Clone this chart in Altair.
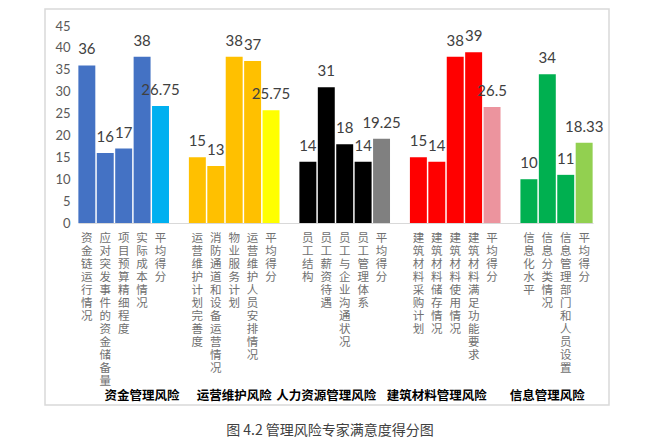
import altair as alt
import pandas as pd

group_names = ["资金管理风险", "运营维护风险", "人力资源管理风险", "建筑材料管理风险", "信息管理风险"]
group_items = [
    ["资金链运行情况", "应对突发事件的资金储备量", "项目预算精细程度", "实际成本情况", "平均得分"],
    ["运营维护计划完善度", "消防通道和设备运营情况", "物业服务计划", "运营维护人员安排情况", "平均得分"],
    ["员工结构", "员工薪资待遇", "员工与企业沟通状况", "员工管理体系", "平均得分"],
    ["建筑材料采购计划", "建筑材料储存情况", "建筑材料使用情况", "建筑材料满足功能要求", "平均得分"],
    ["信息化水平", "信息分类情况", "信息管理部门和人员设置", "平均得分"],
]
group_values = [
    [36, 16, 17, 38, 26.75],
    [15, 13, 38, 37, 25.75],
    [14, 31, 18, 14, 19.25],
    [15, 14, 38, 39, 26.5],
    [10, 34, 11, 18.33],
]
bar_colors = ["#4472C4", "#FFC000", "#000000", "#FF0000", "#00B050"]
avg_colors = ["#00B0F0", "#FFFF00", "#808080", "#EC949E", "#92D050"]
# which bar of each group the group name is centred under
label_anchor = [3, 2, 1, 1, 1]
y_ticks = [0, 5, 10, 15, 20, 25, 30, 35, 40, 45]

rows = []
domain = []
group_rows = []
for gi, (items, vals) in enumerate(zip(group_items, group_values)):
    for j, (name, v) in enumerate(zip(items, vals)):
        key = f"{gi}|{name}"
        color = avg_colors[gi] if name == "平均得分" else bar_colors[gi]
        rows.append({"key": key, "value": v, "color": color, "label": f"{v:g}"})
        domain.append(key)
        if j == label_anchor[gi]:
            group_rows.append({"key": key, "group": group_names[gi]})
    if gi < len(group_items) - 1:
        domain.append(f"gap{gi}|")

df = pd.DataFrame(rows)
gdf = pd.DataFrame(group_rows)

xscale = alt.Scale(domain=domain, paddingInner=0.08, paddingOuter=0.02)
yscale = alt.Scale(domain=[0, 45], nice=False)

x = alt.X(
    "key:N",
    scale=xscale,
    sort=None,
    axis=alt.Axis(
        title=None,
        labelExpr="split(split(datum.label, '|')[1], '')",
        labelAngle=0,
        labelAlign="center",
        labelBaseline="top",
        labelLineHeight=13,
        labelFontSize=11.5,
        labelColor="#707070",
        labelFont="Noto Sans CJK SC",
        labelPadding=9,
        labelOverlap=False,
        labelLimit=0,
        ticks=False,
        domainColor="#D9D9D9",
        grid=False,
    ),
)
y = alt.Y(
    "value:Q",
    scale=yscale,
    axis=alt.Axis(
        title=None,
        values=y_ticks,
        tickCount=10,
        grid=False,
        domain=False,
        ticks=False,
        labelOverlap=False,
        labelFontSize=13,
        labelColor="#595959",
        labelFont="Lato",
        labelPadding=8,
    ),
)

bars = alt.Chart(df).mark_bar().encode(x=x, y=y, color=alt.Color("color:N", scale=None))

values = alt.Chart(df).mark_text(
    baseline="bottom", dy=-8, fontSize=15, font="Lato", color="#404040"
).encode(x=x, y=y, text="label:N")

groups = alt.Chart(gdf).mark_text(
    fontSize=12.5, fontWeight="bold", color="#000000", font="Noto Sans CJK SC", baseline="middle"
).encode(x=x, y=alt.value(370), text="group:N")

title = alt.Chart(alt.Data(values=[{}])).mark_text(
    fontSize=14, color="#404040", font="Noto Sans CJK SC", baseline="middle", align="center"
).encode(x=alt.value(252), y=alt.value(405), text=alt.value("图 4.2  管理风险专家满意度得分图"))

frame = alt.Chart(alt.Data(values=[{}])).mark_rect(
    fill=None, stroke="#D9D9D9", strokeWidth=1.5
).encode(x=alt.value(-33), x2=alt.value(531), y=alt.value(-17), y2=alt.value(379))

chart = alt.layer(frame, bars, values, groups, title).properties(
    width=515,
    height=197,
    autosize=alt.AutoSizeParams(type="none"),
    padding={"left": 70, "top": 18, "right": 60, "bottom": 240},
).configure_view(stroke=None)

chart.save("out.html", embed_options={"renderer": "svg", "actions": False})
